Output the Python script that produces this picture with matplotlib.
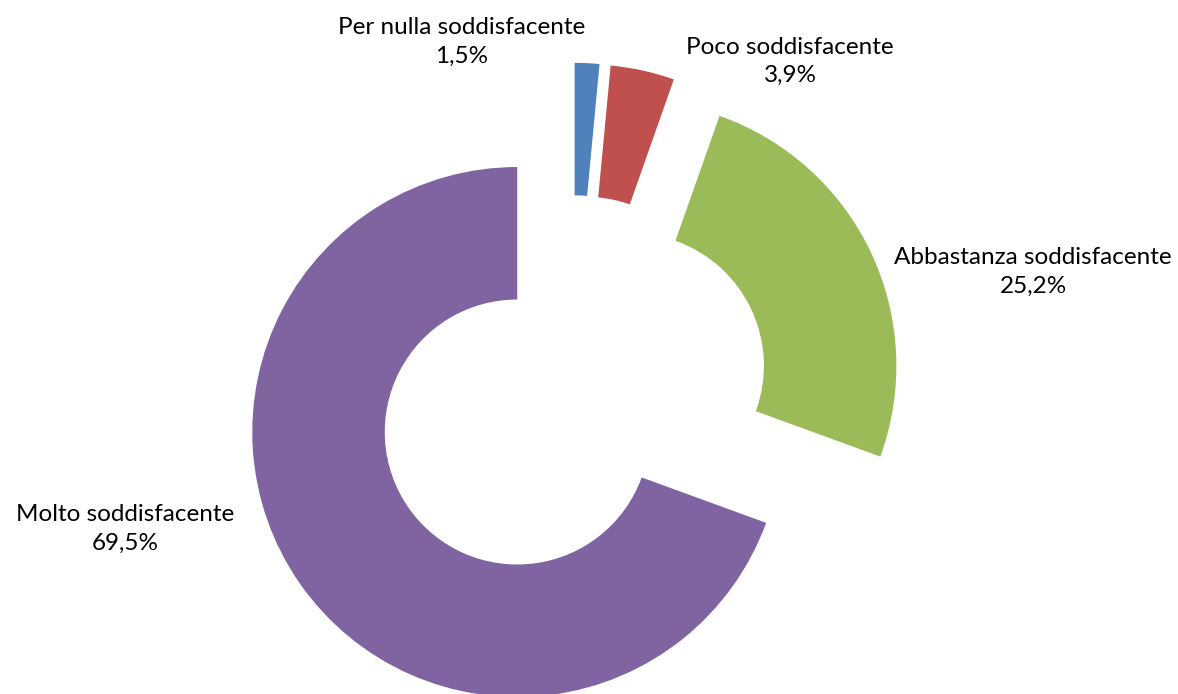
import numpy as np
import matplotlib.pyplot as plt

categories = ['Per nulla soddisfacente', 'Poco soddisfacente',
              'Abbastanza soddisfacente', 'Molto soddisfacente']
values = [1.5, 3.9, 25.2, 69.5]
colors = ['#4F81BD', '#C0504D', '#9BBB59', '#8064A2']

# label anchors (data units, pie radius = 1)
label_pos = [(-0.413, 1.33), (0.825, 1.255), (1.742, 0.46), (-1.685, -0.51)]

fig = plt.figure(figsize=(11.78, 6.94), dpi=100)
ax = fig.add_axes([0, 0, 1, 1])

ax.pie(values, colors=colors, startangle=90, counterclock=False,
       radius=1.0, explode=[0.25] * len(values),
       wedgeprops=dict(width=0.5, edgecolor='none'))

ax.set_xlim(-2.157, 2.289)
ax.set_ylim(-1.132, 1.487)
ax.set_aspect('auto')
ax.axis('off')

for name, v, (x, y) in zip(categories, values, label_pos):
    txt = f'{name}\n{v:.1f}%'.replace('.', ',')
    ax.text(x, y, txt, ha='center', va='center', fontsize=17.5,
            family='Lato', color='black', linespacing=1.45)

fig.savefig('out.png', dpi=100)
